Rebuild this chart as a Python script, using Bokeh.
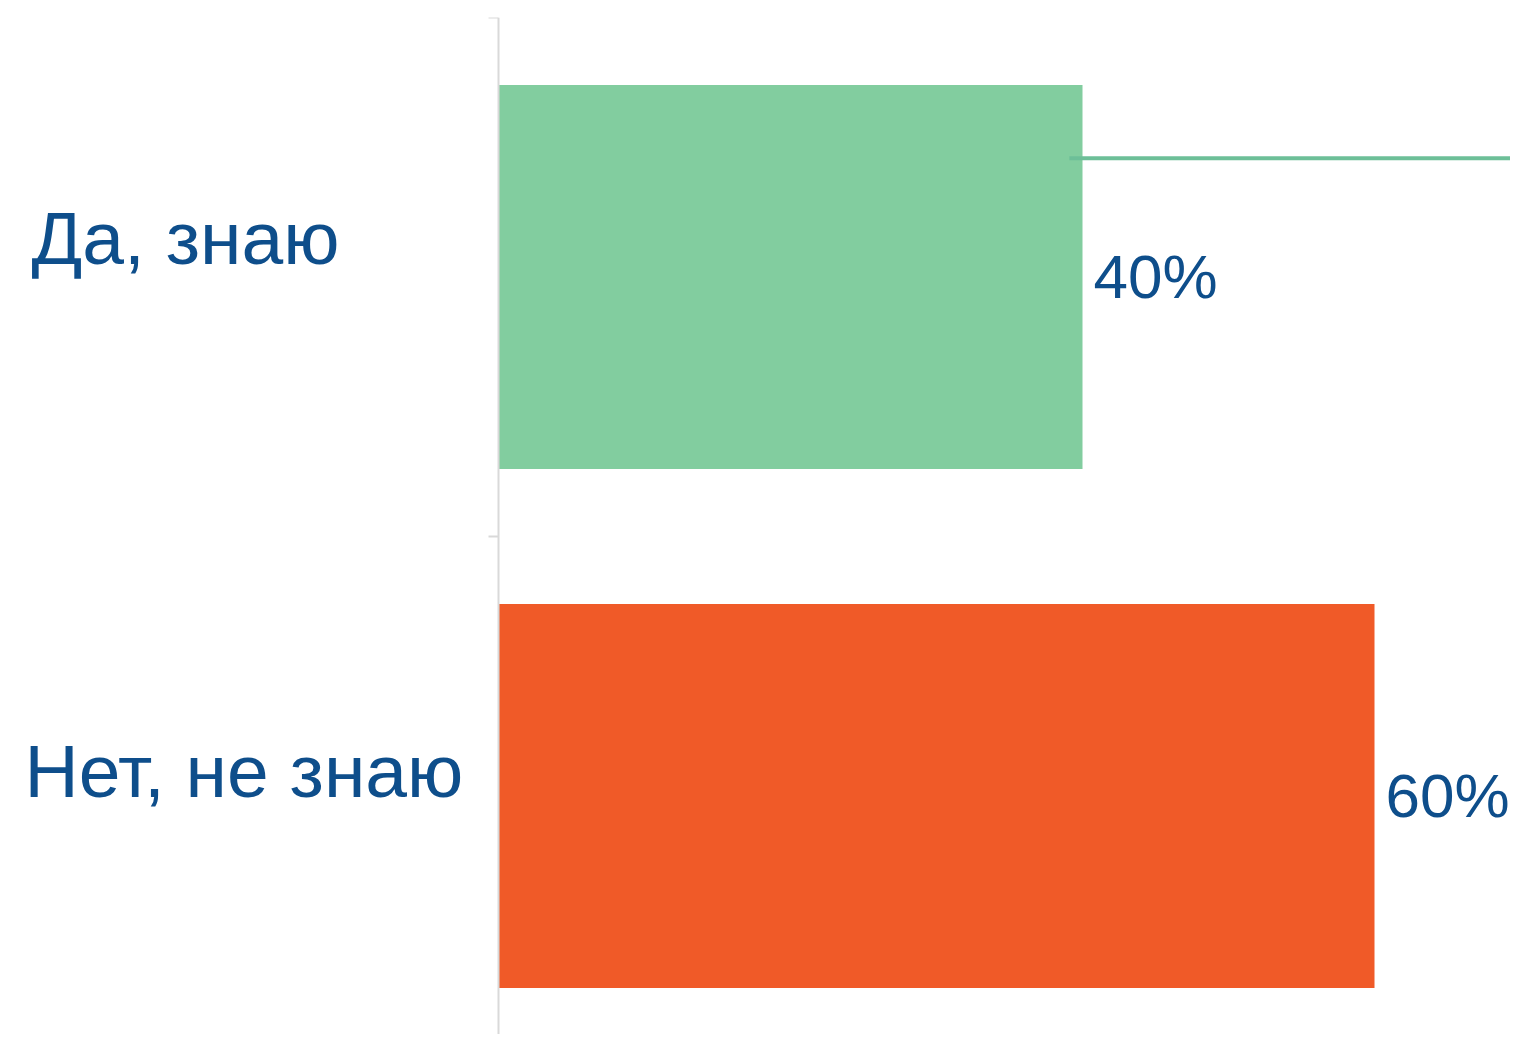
from bokeh.plotting import figure
from bokeh.models import ColumnDataSource, Range1d, FixedTicker, LinearAxis
from bokeh.core.properties import value
from bokeh.embed import file_html
from bokeh.resources import INLINE

# ---- data ----
categories = ["Да, знаю", "Нет, не знаю"]
shares = [0.40, 0.60]
value_labels = ["40%", "60%"]
bar_colors = ["#82CD9F", "#F05A28"]
# stray marker line drawn over the first category (x from/to, y relative to category 0)
marker_line_x = [0.391, 0.75]
marker_line_y = [-0.229, -0.229]

# ---- layout / styles ----
W, H = 1510, 1034
FRAME_TOP = 17
AXIS_PX = 498           # screen x of the value axis (x = 0)
px_per_unit_x = 1460.0
px_per_band = 519.0
x_start = -AXIS_PX / px_per_unit_x
x_end = x_start + W / px_per_unit_x
y_top = -0.5
y_bottom = y_top + (H - FRAME_TOP) / px_per_band

TEXT_COLOR = "#0E4E8B"
FONT = "Liberation Sans"

ypos = list(range(len(categories)))
src = ColumnDataSource(dict(y=ypos, share=shares, label=value_labels, color=bar_colors,
                            cat=categories, cdx=[-467, -474], cdy=[-39, -25]))

p = figure(width=W, height=H, output_backend="svg", toolbar_location=None,
           x_range=Range1d(x_start, x_end), y_range=Range1d(y_bottom, y_top),
           x_axis_location=None, y_axis_location=None,
           min_border_left=0, min_border_top=FRAME_TOP,
           min_border_right=0, min_border_bottom=0)
p.outline_line_color = None
p.background_fill_color = "white"
p.border_fill_color = "white"
p.xgrid.visible = False
p.ygrid.visible = False

ax = LinearAxis(fixed_location=0)
ax.ticker = FixedTicker(ticks=[-0.5, 0.5])
ax.major_label_overrides = {-0.5: "", 0.5: ""}
ax.axis_line_color = "#D9D9D9"
ax.axis_line_width = 2
ax.major_tick_line_color = "#D9D9D9"
ax.major_tick_line_width = 2
ax.major_tick_out = 10
ax.major_tick_in = 0
ax.minor_tick_line_color = None
ax.major_label_standoff = 0
p.add_layout(ax, "left")

p.hbar(y="y", left=0, right="share", height=0.74, color="color", line_color=None, source=src)

p.line(x=marker_line_x, y=marker_line_y, line_color="#6DBF98", line_width=4)

p.text(x="share", y="y", text="label", source=src, x_offset=11, y_offset=-1,
       text_font=value(FONT), text_font_size="62px", text_color=TEXT_COLOR,
       text_align="left", text_baseline="alphabetic")

p.text(x=0, y="y", text="cat", source=src, x_offset="cdx", y_offset="cdy",
       text_font=value(FONT), text_font_size="75px", text_color=TEXT_COLOR,
       text_align="left", text_baseline="alphabetic")

open("out.html", "w").write(file_html(p, INLINE))
